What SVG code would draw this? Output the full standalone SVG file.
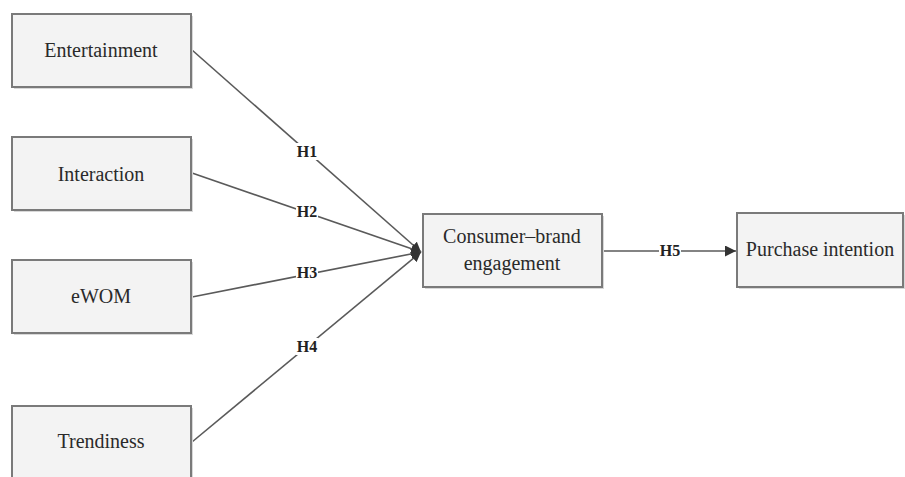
<svg xmlns="http://www.w3.org/2000/svg" width="905" height="477" viewBox="0 0 905 477">
<style>
.box{fill:#f3f3f3;stroke:#7a7a7a;stroke-width:2}
.shadow{fill:#d8d8d8}
.t{font-family:"Liberation Serif","Times New Roman",serif;font-size:20px;fill:#2a2a2a;text-anchor:middle}
.lbl{font-family:"Liberation Serif","Times New Roman",serif;font-size:16px;font-weight:bold;fill:#222;text-anchor:middle}
.ln{stroke:#5a5a5a;stroke-width:1.6;fill:none}
.bg{fill:#fff}
</style>
<defs>
<marker id="ah" viewBox="0 0 10 10" refX="10" refY="5" markerWidth="10" markerHeight="10" markerUnits="userSpaceOnUse" orient="auto">
<path d="M0,0 L10,5 L0,10 z" fill="#333"/>
</marker>
<marker id="ah2" viewBox="0 0 10 10" refX="10" refY="5" markerWidth="11" markerHeight="11" markerUnits="userSpaceOnUse" orient="auto">
<path d="M0,0 L10,5 L0,10 z" fill="#333"/>
</marker>
</defs>
<rect width="905" height="477" fill="#fff"/>
<g id="connectors">
<line class="ln" x1="192" y1="50" x2="421" y2="252" marker-end="url(#ah)"/>
<line class="ln" x1="192" y1="173" x2="421" y2="252" marker-end="url(#ah)"/>
<line class="ln" x1="192" y1="297" x2="421" y2="252" marker-end="url(#ah)"/>
<line class="ln" x1="192" y1="442" x2="421" y2="252" marker-end="url(#ah)"/>
<line class="ln" x1="602" y1="251" x2="736" y2="251" marker-end="url(#ah2)"/>
<rect class="bg" x="296" y="143" width="22" height="17"/>
<text class="lbl" x="307" y="157">H1</text>
<rect class="bg" x="296" y="203" width="22" height="17"/>
<text class="lbl" x="307" y="217">H2</text>
<rect class="bg" x="296" y="264" width="22" height="17"/>
<text class="lbl" x="307" y="278">H3</text>
<rect class="bg" x="296" y="338" width="22" height="17"/>
<text class="lbl" x="307" y="352">H4</text>
<rect class="bg" x="659" y="242" width="22" height="17"/>
<text class="lbl" x="670" y="256">H5</text>
</g>
<g id="entertainment">
<rect class="shadow" x="14" y="16" width="179" height="73"/>
<rect class="box" x="12" y="14" width="179" height="73"/>
<text class="t" x="101" y="57">Entertainment</text>
</g>
<g id="interaction">
<rect class="shadow" x="14" y="139" width="179" height="73"/>
<rect class="box" x="12" y="137" width="179" height="73"/>
<text class="t" x="101" y="181">Interaction</text>
</g>
<g id="ewom">
<rect class="shadow" x="14" y="262" width="179" height="73"/>
<rect class="box" x="12" y="260" width="179" height="73"/>
<text class="t" x="101" y="303">eWOM</text>
</g>
<g id="trendiness">
<rect class="shadow" x="14" y="408" width="179" height="73"/>
<rect class="box" x="12" y="406" width="179" height="73"/>
<text class="t" x="101" y="448">Trendiness</text>
</g>
<g id="consumer-brand">
<rect class="shadow" x="425" y="216" width="179" height="73"/>
<rect class="box" x="423" y="214" width="179" height="73"/>
<text class="t" x="512" y="243">Consumer–brand</text>
<text class="t" x="512" y="270">engagement</text>
</g>
<g id="purchase-intention">
<rect class="shadow" x="739" y="215" width="166" height="74"/>
<rect class="box" x="737" y="213" width="166" height="74"/>
<text class="t" x="820" y="256">Purchase intention</text>
</g>
</svg>
